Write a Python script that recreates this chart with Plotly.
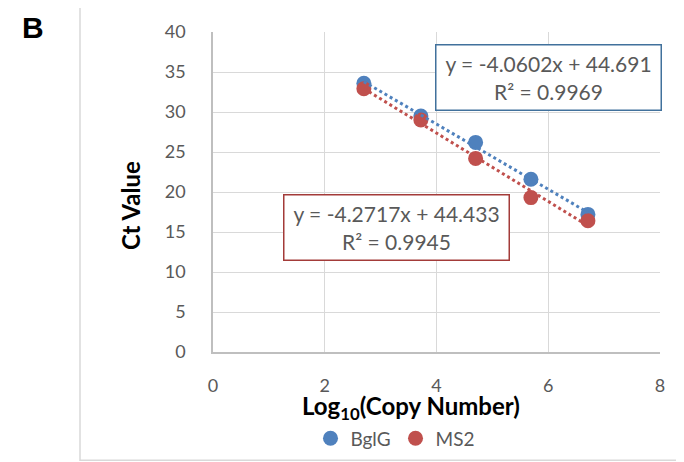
import numpy as np
import plotly.graph_objects as go

# Data
log_copy = [2.70, 3.72, 4.70, 5.69, 6.71]
bglg_ct = [33.6, 29.5, 26.2, 21.6, 17.2]
ms2_ct = [32.9, 29.0, 24.2, 19.3, 16.4]
series_names = ["BglG", "MS2"]
eq_bglg = "y = -4.0602x + 44.691<br>R² = 0.9969"
eq_ms2 = "y = -4.2717x + 44.433<br>R² = 0.9945"
x_ticks = [0, 2, 4, 6, 8]
y_ticks = [0, 5, 10, 15, 20, 25, 30, 35, 40]

BLUE = "#4F81BD"
RED = "#C0504D"
TXT = "#595959"
FONT = "Lato, 'Open Sans', sans-serif"

OFF = 8  # default page body margin
W, H = 684, 462
# target plot area in window pixels: x 213..660, y 30..352
L, T = 213 - OFF, 30 - OFF
R = (W + OFF) - 660
B = (H + OFF) - 352
pw, ph = 660 - 213, 352 - 30


def px(x):
    return (x - 213) / pw


def py(y):
    return (352 - y) / ph


fig = go.Figure()
for name, ys, col in [(series_names[0], bglg_ct, BLUE), (series_names[1], ms2_ct, RED)]:
    fig.add_trace(go.Scatter(x=log_copy, y=ys, mode="markers", name=name,
                             marker=dict(size=15, color=col)))

for ys, col in [(bglg_ct, BLUE), (ms2_ct, RED)]:
    k, b = np.polyfit(log_copy, ys, 1)
    xs = np.array([min(log_copy), max(log_copy)])
    fig.add_trace(go.Scatter(x=xs, y=k * xs + b, mode="lines", showlegend=False,
                             line=dict(color=col, width=3, dash="dot"), hoverinfo="skip"))

fig.update_xaxes(range=[0, 8], tickvals=x_ticks, showgrid=True, gridcolor="#d9d9d9", gridwidth=1,
                 showline=True, linecolor="#bfbfbf", linewidth=1.5, zeroline=False,
                 tickfont=dict(family=FONT, size=18, color=TXT), ticks="", ticklabelstandoff=17)
fig.update_yaxes(range=[0, 40], tickvals=y_ticks, showgrid=True, gridcolor="#d9d9d9", gridwidth=1,
                 showline=True, linecolor="#bfbfbf", linewidth=1.5, zeroline=False,
                 tickfont=dict(family=FONT, size=18, color=TXT), ticks="", ticklabelstandoff=22)

common = dict(xref="paper", yref="paper", showarrow=False, xanchor="center", yanchor="middle")
annotations = [
    dict(x=px(548), y=py(76), text=eq_bglg,
         font=dict(family=FONT, size=21, color=TXT), bordercolor="#41719C", borderwidth=1.5,
         borderpad=2, bgcolor="white", width=220, height=60, align="center", **common),
    dict(x=px(396), y=py(227), text=eq_ms2,
         font=dict(family=FONT, size=21, color=TXT), bordercolor="#A33B39", borderwidth=1.5,
         borderpad=2, bgcolor="white", width=220, height=60, align="center", **common),
    dict(x=px(411), y=py(408), text="<b>Log<sub>10</sub>(Copy Number)</b>",
         font=dict(family=FONT, size=24, color="black"), **common),
    dict(x=px(131), y=py(205), text="<b>Ct Value</b>", textangle=-90,
         font=dict(family=FONT, size=24, color="black"), **common),
    dict(x=px(33), y=py(25), text="<b>B</b>",
         font=dict(family="Liberation Sans, Arial, sans-serif", size=30, color="black"), **common),
]

shapes = [dict(type="rect", xref="paper", yref="paper", x0=px(80), x1=px(700),
               y0=py(461), y1=py(1), line=dict(color="#d9d9d9", width=1.5), layer="below")]

fig.update_layout(
    width=W, height=H, margin=dict(l=L, r=R, t=T, b=B),
    plot_bgcolor="white", paper_bgcolor="white",
    annotations=annotations, shapes=shapes,
    legend=dict(orientation="h", x=px(395), xanchor="center", y=py(439), yanchor="middle",
                font=dict(family=FONT, size=19, color=TXT), itemwidth=30,
                tracegroupgap=0, bgcolor="rgba(0,0,0,0)"),
)

fig.write_html("out.html")
